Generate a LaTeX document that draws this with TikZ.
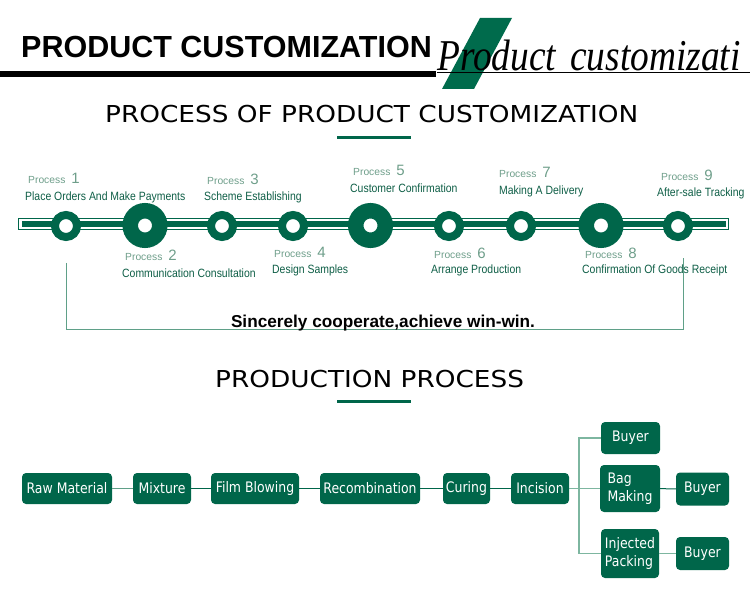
\documentclass[tikz,border=0pt]{standalone}
\usepackage{fontspec}
\setmainfont{DejaVu Sans}
\newfontfamily\boxf[FakeStretch=0.86]{DejaVu Sans}
\newfontfamily\titlef[FakeStretch=1.13]{DejaVu Sans}
\newfontfamily\labf[FakeStretch=0.87]{Liberation Sans}
\newfontfamily\procf{Liberation Sans}
\newfontfamily\headf{Liberation Sans}
\newfontfamily\scriptf[FakeStretch=0.85]{Liberation Serif}
\definecolor{dg}{HTML}{00664A}
\definecolor{pg}{HTML}{006B4C}
\definecolor{lg}{HTML}{6E9E8A}
\definecolor{tg}{HTML}{0E5E46}
\definecolor{ln}{HTML}{5FA088}
\definecolor{treec}{HTML}{7DB6A0}
\begin{document}
\begin{tikzpicture}[x=1pt,y=-1pt,
  fbox/.style={fill=dg, rounded corners=4pt, text=white, inner sep=0pt,
    font=\boxf\fontsize{14.5}{18}\selectfont, align=center},
  ringS/.style={circle, draw=dg, line width=8pt, fill=white, inner sep=0pt, minimum size=22pt},
  ringL/.style={circle, draw=dg, line width=15.5pt, fill=white, inner sep=0pt, minimum size=29.5pt},
  proc/.style={anchor=base west, inner sep=0pt, text=lg, font=\procf\fontsize{10.3}{12}\selectfont},
  lab/.style={anchor=base west, inner sep=0pt, text=tg, font=\labf\fontsize{12}{14}\selectfont},
  title/.style={anchor=base west, inner sep=0pt, text=black, font=\titlef\fontsize{23.3}{26}\selectfont},
  conn/.style={draw=dg, line width=1pt},
  treeline/.style={draw=treec, line width=1.2pt},
]
\useasboundingbox (0,0) rectangle (750,604);

% ---------- header ----------
\fill[pg] (480,18) -- (512,18) -- (474,89) -- (442,89) -- cycle;
\fill[black] (0,71) rectangle (436,77);
\draw[black, line width=0.8pt] (437,72) -- (750,72);
\node[anchor=base west, inner sep=0pt, font=\headf\bfseries\fontsize{30.5}{32}\selectfont] (head) at (21,58) {PRODUCT CUSTOMIZATION};
\node[anchor=base west, inner sep=0pt, font=\scriptf\itshape\fontsize{44}{48}\selectfont] (script) at (437,71) {Product\hspace{14pt}customizati};

% ---------- title 1 ----------
\node[title] (t1) at (105,123) {PROCESS OF PRODUCT CUSTOMIZATION};
\fill[dg] (337,136) rectangle (411,139);

% ---------- timeline ----------
\draw[dg, line width=1pt] (18.5,218.5) rectangle (728.5,229.5);
\fill[dg] (21.5,221.5) rectangle (725.5,227);

\node[ringS] (c1) at (66,226) {};
\node[ringL] (c2) at (145,225.5) {};
\node[ringS] (c3) at (222,226) {};
\node[ringS] (c4) at (293,226) {};
\node[ringL] (c5) at (370.5,225.5) {};
\node[ringS] (c6) at (449,226) {};
\node[ringS] (c7) at (521,226) {};
\node[ringL] (c8) at (601,225.5) {};
\node[ringS] (c9) at (678,226) {};

\newcommand{\pnum}[1]{\hspace{6pt}{\fontsize{15}{15}\selectfont #1}}
\node[proc] (p1) at (28,184) {Process\pnum{1}};
\node[lab] (l1) at (25,201) {Place Orders And Make Payments};
\node[proc] (p2) at (125,261) {Process\pnum{2}};
\node[lab] (l2) at (122,277) {Communication Consultation};
\node[proc] (p3) at (207,185) {Process\pnum{3}};
\node[lab] (l3) at (204,201) {Scheme Establishing};
\node[proc] (p4) at (274,258) {Process\pnum{4}};
\node[lab] (l4) at (272,273) {Design Samples};
\node[proc] (p5) at (353,176) {Process\pnum{5}};
\node[lab] (l5) at (350,193) {Customer Confirmation};
\node[proc] (p6) at (434,259) {Process\pnum{6}};
\node[lab] (l6) at (431,274) {Arrange Production};
\node[proc] (p7) at (499,178) {Process\pnum{7}};
\node[lab] (l7) at (499,195) {Making A Delivery};
\node[proc] (p8) at (585,259) {Process\pnum{8}};
\node[lab] (l8) at (582,274) {Confirmation Of Goods Receipt};
\node[proc] (p9) at (661,181) {Process\pnum{9}};
\node[lab] (l9) at (657,197) {After-sale Tracking};

% bracket
\coordinate (ba) at (66,263);
\coordinate (bb) at (683,329);
\coordinate (bc) at (683,258);
\draw[ln, line width=1pt] (ba) |- (bb) -- (bc);
\node[anchor=base, inner sep=0pt, font=\procf\bfseries\fontsize{17.2}{19}\selectfont] (motto) at (383,327) {Sincerely cooperate,achieve win-win.};

% ---------- title 2 ----------
\node[title] (t2) at (215,387) {PRODUCTION PROCESS};
\fill[dg] (337,400) rectangle (411,403);

% ---------- flow ----------
\node[fbox, minimum width=90pt, minimum height=31pt] (raw) at (67,488.5) {Raw Material};
\node[fbox, minimum width=58pt, minimum height=31pt] (mix) at (162,488.5) {Mixture};
\node[fbox, minimum width=88pt, minimum height=31pt] (film) at (255,488.5) {Film Blowing};
\node[fbox, minimum width=100pt, minimum height=31pt] (rec) at (370,488.5) {Recombination};
\node[fbox, minimum width=47pt, minimum height=31pt] (cur) at (466.5,488.5) {Curing};
\node[fbox, minimum width=58pt, minimum height=31pt] (inc) at (540,488.5) {Incision};
\node[fbox, minimum width=59pt, minimum height=32pt] (buy1) at (630.5,438) {Buyer};
\node[fbox, minimum width=60pt, minimum height=47pt, align=left] (bag) at (630,488.5) {Bag\\Making};
\node[fbox, minimum width=53pt, minimum height=33pt] (buy2) at (702.5,489) {Buyer};
\node[fbox, minimum width=58pt, minimum height=49pt, align=left] (inj) at (630,553.5) {Injected\\Packing};
\node[fbox, minimum width=53pt, minimum height=33pt] (buy3) at (702.5,553.5) {Buyer};

\draw[draw=ln, line width=1pt] (raw) -- (mix);
\draw[conn] (mix) -- (film);
\draw[conn] (film) -- (rec);
\draw[conn] (rec) -- (cur);
\draw[conn] (cur) -- (inc);
\coordinate (j) at (579,488.5);
\draw[treeline] (inc.east) -- (bag.west);
\draw[treeline] (buy1.west) -| (j);
\draw[treeline] (inj.west) -| (j);
\draw[conn] (bag) -- (buy2);
\draw[treeline] (inj) -- (buy3);
\end{tikzpicture}
\end{document}
